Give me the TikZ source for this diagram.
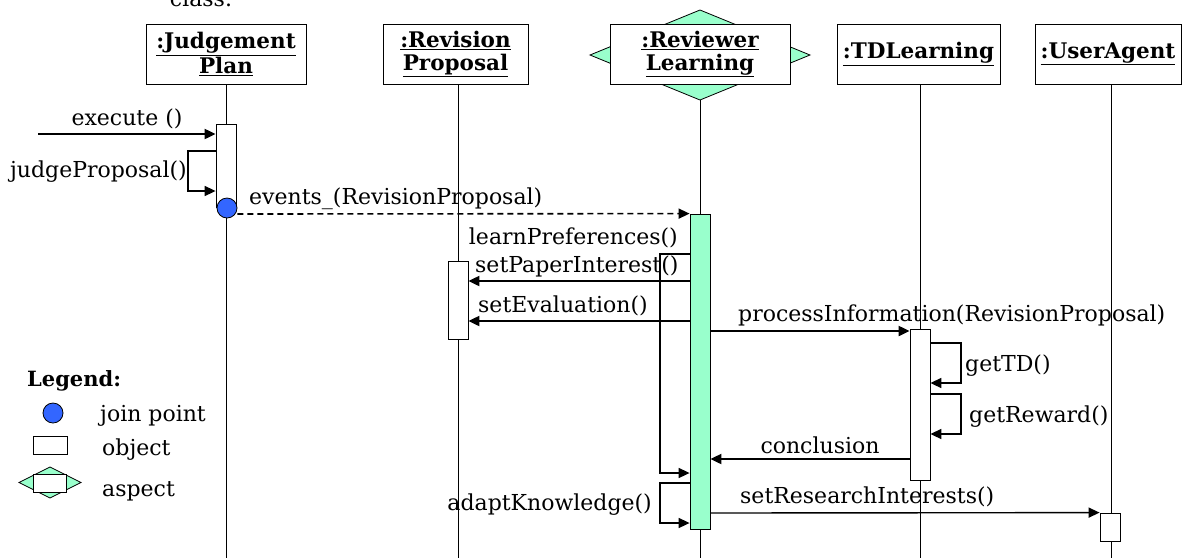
\documentclass[tikz,border=0pt]{standalone}
\usepackage{fontspec}
\setmainfont{DejaVu Serif}
\usetikzlibrary{arrows.meta}
\definecolor{aspectgreen}{HTML}{99FFCC}
\definecolor{jpblue}{HTML}{3366FF}
\tikzset{
  objbox/.style={draw, fill=white, line width=0.8pt, inner sep=0pt, align=center,
    font=\fontsize{21.5}{23}\selectfont\bfseries},
  bar/.style={draw, fill=white, line width=0.8pt, inner sep=0pt, minimum width=20pt},
  lifeline/.style={line width=0.8pt},
  msg/.style={line width=2pt, -{Triangle[length=11pt,width=10pt]}},
  loopmsg/.style={line width=1.6pt, -{Triangle[length=11pt,width=10pt]}},
  lbl/.style={inner sep=0pt, font=\fontsize{22}{24}\selectfont},
  aspectshape/.style={draw, fill=aspectgreen, line width=0.8pt},
}
\begin{document}
\begin{tikzpicture}[x=1pt,y=-1pt]
\useasboundingbox (0,0) rectangle (1185,558);
% page text fragment at the top
\node[lbl, anchor=base] (cls) at (201,6) {class.};
% aspect diamond
\filldraw[aspectshape] (700,10) -- (810,55) -- (700,100) -- (590,55) -- cycle;
% object boxes
\node[objbox, minimum width=160pt, minimum height=60pt] (J) at (226,54) {\underline{:Judgement}\\\underline{Plan}};
\node[objbox, minimum width=145pt, minimum height=60pt] (R) at (455.5,54) {\underline{:Revision}\\\underline{Proposal}};
\node[objbox, minimum width=180pt, minimum height=60pt] (V) at (700,54) {\underline{:Reviewer}\\\underline{Learning}};
\node[objbox, minimum width=163pt, minimum height=60pt] (T) at (918.5,54) {\underline{:TDLearning}};
\node[objbox, minimum width=146pt, minimum height=60pt] (U) at (1108,54) {\underline{:UserAgent}};
% lifelines
\coordinate (Jend) at (226,558);
\coordinate (Rend) at (458,558);
\coordinate (Vend) at (700,558);
\coordinate (Tend) at (920,558);
\coordinate (Uend) at (1111,558);
\draw[lifeline] (226,84) -- (Jend);
\draw[lifeline] (458,84) -- (Rend);
\draw[lifeline] (700,100) -- (Vend);
\draw[lifeline] (920,84) -- (Tend);
\draw[lifeline] (1111,84) -- (Uend);
% activation bars
\node[bar, minimum height=83pt] (Jbar) at (226,165.5) {};
\node[bar, minimum height=78pt] (Rbar) at (458,300) {};
\node[bar, fill=aspectgreen, minimum height=315pt] (Vbar) at (700,371.5) {};
\node[bar, minimum height=151pt] (Tbar) at (920,404.5) {};
\node[bar, minimum height=28pt] (Ubar) at (1110,527) {};
% join point
\node[circle, draw, fill=jpblue, line width=0.8pt, minimum size=20pt, inner sep=0pt] (jp) at (227,208) {};
% messages
\coordinate (exs) at (38,134);
\draw[msg] (exs) -- (exs -| Jbar.west);
\node[lbl] (exl) at (127,119) {execute ()};
\draw[loopmsg] (Jbar.west |- 0,151) -- (188,151) -- (188,191) -- (Jbar.west |- 0,191);
\node[lbl, anchor=east] (jpl) at (187,172) {judgeProposal()};
\draw[line width=1.6pt, dashed, dash pattern=on 6pt off 4pt, -{Triangle[length=11pt,width=10pt]}] (jp.east |- 0,214) -- (Vbar.north west);
\node[lbl, anchor=west] (evl) at (249,199) {events\_(RevisionProposal)};
\draw[loopmsg] (Vbar.west |- 0,254) -- (660,254) -- (660,473) -- (Vbar.west |- 0,473);
\node[lbl, anchor=east] (lpl) at (678,238) {learnPreferences()};
\draw[msg] (Vbar.west |- 0,281) -- (Rbar.east |- 0,281);
\node[lbl, anchor=west] (spl) at (475,266) {setPaperInterest()};
\draw[msg] (Vbar.west |- 0,321) -- (Rbar.east |- 0,321);
\node[lbl, anchor=west] (sel) at (478,306) {setEvaluation()};
\draw[msg] (Vbar.east |- 0,331) -- (Tbar.west |- 0,331);
\node[lbl, anchor=west] (pil) at (738,315) {processInformation(RevisionProposal)};
\draw[loopmsg] (Tbar.east |- 0,343) -- (961,343) -- (961,383) -- (Tbar.east |- 0,383);
\node[lbl, anchor=west] (gtl) at (965,366) {getTD()};
\draw[loopmsg] (Tbar.east |- 0,394) -- (961,394) -- (961,434) -- (Tbar.east |- 0,434);
\node[lbl, anchor=west] (grl) at (969,417) {getReward()};
\draw[msg] (Tbar.west |- 0,459) -- (Vbar.east |- 0,459);
\node[lbl] (col) at (820,445) {conclusion};
\draw[loopmsg] (Vbar.west |- 0,483) -- (660,483) -- (660,523) -- (Vbar.west |- 0,523);
\node[lbl, anchor=east] (akl) at (652,505) {adaptKnowledge()};
\draw[line width=1.4pt, -{Triangle[length=11pt,width=10pt]}] (Vbar.east |- 0,513) -- (Ubar.north west);
\node[lbl, anchor=west] (srl) at (740,497) {setResearchInterests()};
% legend
\node[lbl, anchor=west, font=\fontsize{21}{23}\selectfont\bfseries] (leg) at (27,381) {Legend:};
\node[circle, draw, fill=jpblue, line width=0.8pt, minimum size=20pt, inner sep=0pt] (legjp) at (53,413) {};
\node[lbl, anchor=west] (legjpl) at (100,416) {join point};
\node[draw, fill=white, line width=0.8pt, minimum width=34pt, minimum height=18pt, inner sep=0pt] (legobj) at (50,445) {};
\node[lbl, anchor=west] (legobjl) at (102,450) {object};
\filldraw[aspectshape] (19,482.5) -- (50,467) -- (81,482.5) -- (50,498) -- cycle;
\node[draw, fill=white, line width=0.8pt, minimum width=33pt, minimum height=18pt, inner sep=0pt] (legasp) at (49.5,483) {};
\node[lbl, anchor=west] (legaspl) at (102,491) {aspect};
\end{tikzpicture}
\end{document}
